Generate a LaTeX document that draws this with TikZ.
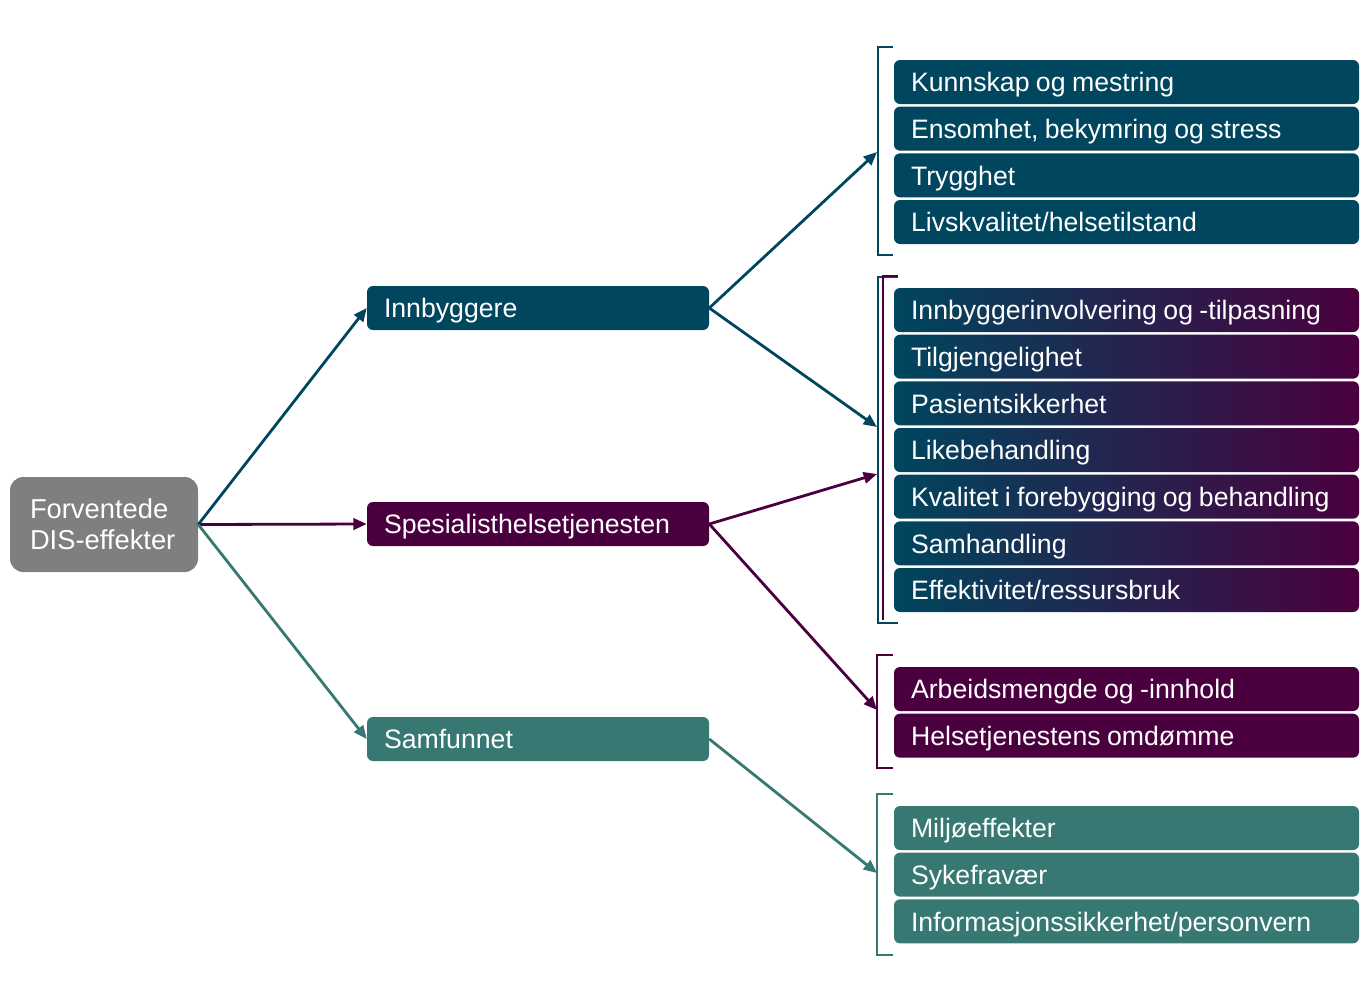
\documentclass[tikz,border=0pt]{standalone}
\usepackage{fontspec}
\setmainfont{Liberation Sans}
\usetikzlibrary{arrows.meta}
\definecolor{cblue}{HTML}{00465E}
\definecolor{cpurp}{HTML}{4A003F}
\definecolor{cgreen}{HTML}{377872}
\definecolor{cgray}{HTML}{7F7F7F}
\begin{document}
\begin{tikzpicture}[x=0.75pt,y=-0.75pt,
  txt/.style={text=white, font=\fontsize{20}{24}\selectfont, execute at begin node={\spaceskip=0.24em\relax}, align=left, text height=14.5pt, text depth=0pt, inner ysep=0pt, rounded corners=4.5pt},
  itembox/.style={txt, minimum width=348.75pt, minimum height=33pt, text width=323.25pt, inner xsep=12.75pt},
  midbox/.style={txt, minimum width=256.5pt, minimum height=33pt, text width=231pt, inner xsep=12.75pt},
  rootbox/.style={fill=cgray, text=white, font=\fontsize{20.5}{23.5}\selectfont, align=left, minimum width=141pt, minimum height=71.25pt, text width=111pt, inner xsep=15pt, rounded corners=10pt},
  conn/.style={line width=2.1pt, -{Triangle[length=10pt,width=8.5pt]}},
  brk/.style={line width=2.2pt},
]
\useasboundingbox (0,0) rectangle (1371,1004);

% brackets
\draw[brk, cblue] (893,47) -- (878,47) -- (878,255) -- (893,255);
\draw[brk, cblue] (898,277) -- (878,277) -- (878,623) -- (898,623);
\draw[brk, cpurp] (898,276) -- (883,276) -- (883,620);
\draw[brk, cpurp] (893,655) -- (877,655) -- (877,768) -- (893,768);
\draw[brk, cgreen] (893,794) -- (877,794) -- (877,955) -- (893,955);

\coordinate (t1) at (877,152);
\coordinate (t2) at (877,427);
\coordinate (t3) at (877,474);
\coordinate (t4) at (877,710);
\coordinate (t5) at (877,873);

% item boxes
\foreach \t [count=\i] in {Kunnskap og mestring, {Ensomhet, bekymring og stress}, Trygghet, Livskvalitet/helsetilstand}
  \node[itembox, fill=cblue] (a\i) at (1126.5, {82+(\i-1)*46.67}) {\t};
\foreach \t [count=\i] in {Innbyggerinvolvering og -tilpasning, Tilgjengelighet, Pasientsikkerhet, Likebehandling, Kvalitet i forebygging og behandling, Samhandling, Effektivitet/ressursbruk}
  \node[itembox, left color=cblue, right color=cpurp] (b\i) at (1126.5, {310+(\i-1)*46.67}) {\t};
\foreach \t [count=\i] in {Arbeidsmengde og -innhold, Helsetjenestens omdømme}
  \node[itembox, fill=cpurp] (c\i) at (1126.5, {689+(\i-1)*46.67}) {\t};
\foreach \t [count=\i] in {Miljøeffekter, Sykefravær, Informasjonssikkerhet/personvern}
  \node[itembox, fill=cgreen] (d\i) at (1126.5, {828+(\i-1)*46.67}) {\t};

% middle boxes
\node[midbox, fill=cblue] (inn) at (538,308) {Innbyggere};
\node[midbox, fill=cpurp] (spes) at (538,524) {Spesialisthelsetjenesten};
\node[midbox, fill=cgreen] (sam) at (538,739) {Samfunnet};

% root
\node[rootbox] (root) at (104,524.5) {Forventede\\DIS-effekter};

% connectors
\draw[conn, cblue] (root.east) -- (inn.west);
\draw[conn, cpurp] (root.east) -- (spes.west);
\draw[conn, cgreen] (root.east) -- (sam.west);
\draw[conn, cblue] (inn.east) -- (t1);
\draw[conn, cblue] (inn.east) -- (t2);
\draw[conn, cpurp] (spes.east) -- (t3);
\draw[conn, cpurp] (spes.east) -- (t4);
\draw[conn, cgreen] (sam.east) -- (t5);
\end{tikzpicture}
\end{document}
